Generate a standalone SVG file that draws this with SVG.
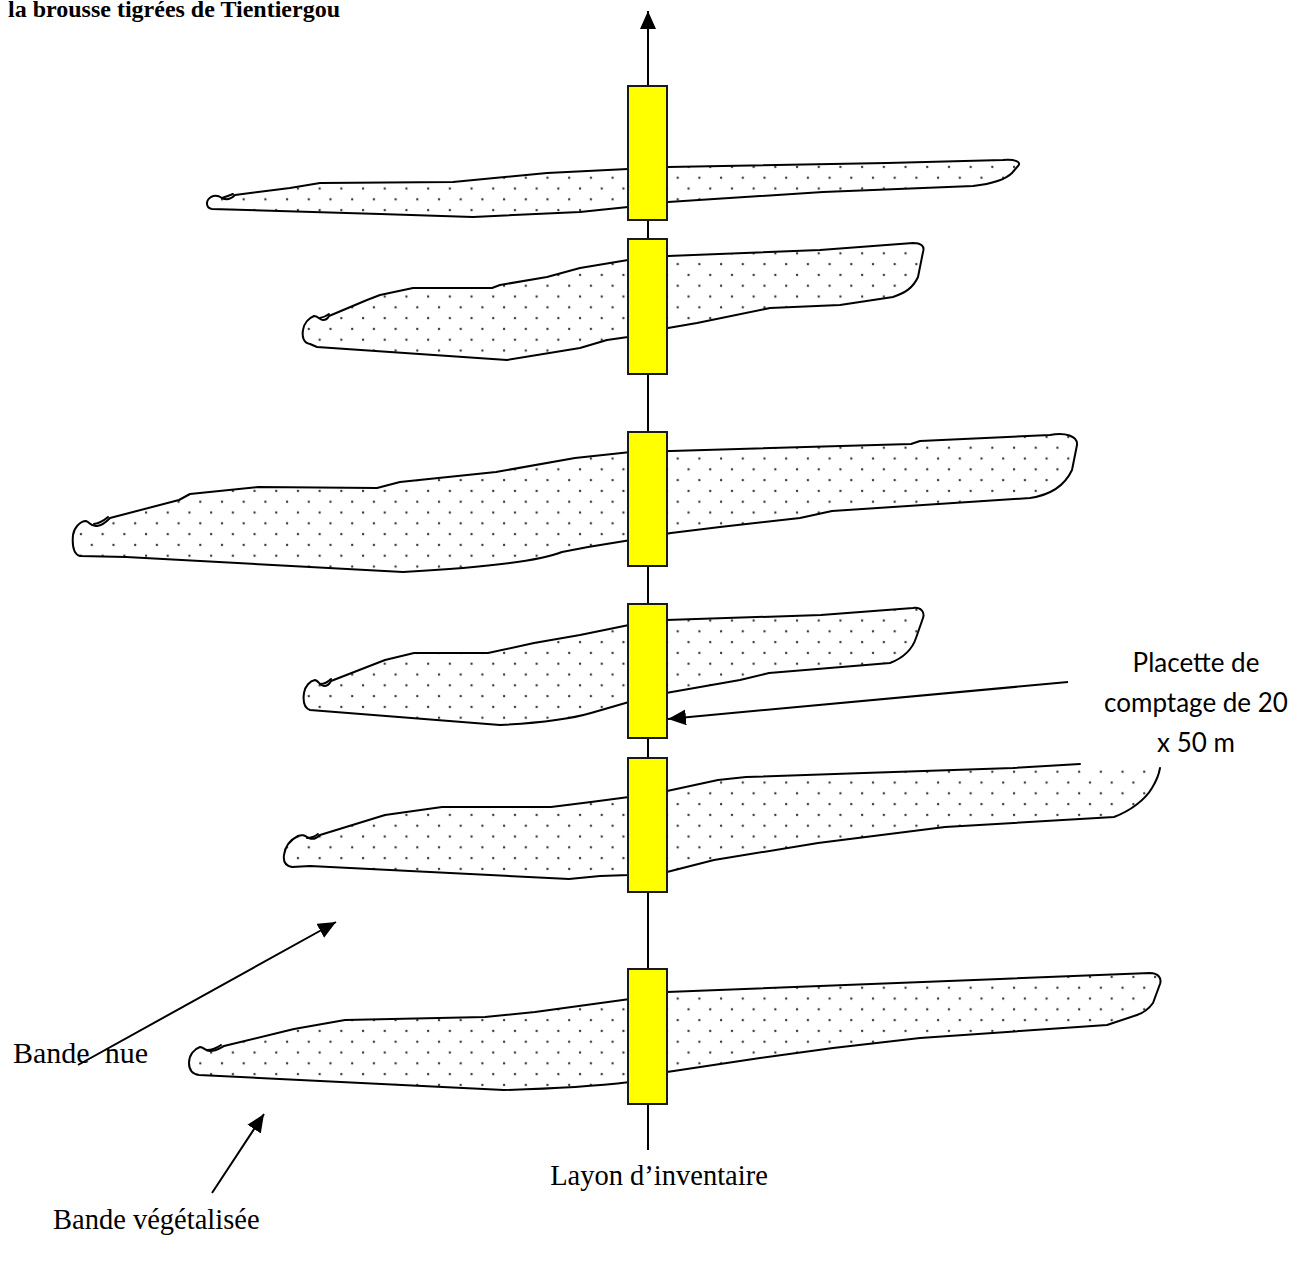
<svg xmlns="http://www.w3.org/2000/svg" width="1314" height="1265" viewBox="0 0 1314 1265">
<style>
.band{fill:url(#dots);stroke:#000;stroke-width:2;stroke-linejoin:round;stroke-linecap:round}
.bandfill{fill:url(#dots);stroke:none}
.bandline{fill:none;stroke:#000;stroke-width:2;stroke-linejoin:round;stroke-linecap:round}
.plot{fill:#ffff00;stroke:#1a1a1a;stroke-width:2}
.conn{fill:none;stroke:#000;stroke-width:2}
.serif{font-family:"Liberation Serif","Times New Roman",serif;fill:#000}
.sans{font-family:Lato,"Liberation Sans",sans-serif;fill:#000;font-size:26px;text-anchor:middle}
</style>
<defs>
<pattern id="dots" patternUnits="userSpaceOnUse" width="21.7" height="21.6">
<circle cx="5" cy="5" r="1.2" fill="#3a3a3a"/>
<circle cx="15.85" cy="15.8" r="1.2" fill="#3a3a3a"/>
</pattern>
<marker id="arr" markerUnits="userSpaceOnUse" markerWidth="20" markerHeight="16" refX="18" refY="8" orient="auto">
<path d="M0,0 L18,8 L0,16 Z" fill="#000"/>
</marker>
</defs>
<rect width="1314" height="1265" fill="#fff"/>

<text class="serif" x="8" y="17" font-size="24" font-weight="bold">la brousse tigrées de Tientiergou</text>

<g id="connectors">
<path id="layon" class="conn" d="M648,1150 L648,11" marker-end="url(#arr)"/>
</g>

<g id="band1">
<path class="band" d="M212,209 C206,208 205,201 211,197 C215,195 219,196 222,198 C226,200 231,199 235,195 L290,188 L320,183 L453,182 L547,173 L628,169 L668,167 L887,163 L1003,160 C1015,159 1022,162 1018,166 L1012,173 C1005,180 990,184 973,186 L823,192 L668,202 L628,207 L580,212 L473,217 L380,214 Z"/>
<path class="bandline" d="M222,198 Q228,196 233,194"/>
</g>
<g id="band2">
<path class="band" d="M310,344 C303,343 302,336 303,330 C304,323 309,318 314,316 C318,316 320,320 323,320 C326,320 328,318 329,316 L367,300 L380,295 L413,288 L492,288 L500,285 L547,277 L580,268 L628,260 L668,256 L820,250 L913,243 C921,243 925,246 923,252 L918,277 C913,288 905,293 893,297 L840,305 L770,308 L697,323 L668,328 L628,337 L607,340 L580,348 L507,360 L317,347 Z"/>
<path class="bandline" d="M320,318 Q325,317 329,314"/>
</g>
<g id="band3">
<path class="band" d="M80,556 C73,554 72,546 73,535 C74,528 80,521 86,521 C90,522 91,527 97,526 C104,525 108,520 110,518 L179,500 L190,494 L258,487 L377,488 L400,482 L496,472 L575,458 L631,452 L671,451 L911,444 L920,441 L1050,435 C1065,432 1078,436 1077,445 L1072,470 C1065,485 1050,495 1030,498 L832,511 L800,518 L720,527 L671,533 L631,540 L588,547 L562,552 Q530,565 403,572 L126,557 Z"/>
<path class="bandline" d="M94,524 Q101,523 108,517"/>
</g>
<g id="band4">
<path class="band" d="M310,710 C304,708 303,700 304,693 C305,686 310,681 315,680 C319,681 320,686 324,686 C328,686 330,683 331,681 L385,660 L414,653 L488,653 L534,643 L580,635 L629,625 L666,620 L821,615 L913,608 C921,607 925,612 923,618 L916,638 C912,650 903,658 890,663 L769,673 L740,680 L666,693 L629,702 L591,713 Q560,722 500,725 Z"/>
<path class="bandline" d="M320,684 Q326,684 331,679"/>
</g>
<g id="band5">
<path class="bandfill" d="M1080,764 L1013,768 L864,773 L746,777 L718,780 L667,791 L629,797 L591,802 L551,807 L442,807 L385,815 L320,835 C317,838 313,840 309,838 C305,836 303,834 298,836 C290,840 285,847 284,855 C283,862 286,866 292,867 L310,866 L569,879 L600,876 L629,875 L667,872 L714,860 L818,843 L945,827 L1114,817 C1130,811 1145,800 1152,788 C1157,780 1159,774 1160,768 Z"/>
<path class="bandline" d="M1080,764 L1013,768 L864,773 L746,777 L718,780 L667,791 L629,797 L591,802 L551,807 L442,807 L385,815 L320,835 C317,838 313,840 309,838 C305,836 303,834 298,836 C290,840 285,847 284,855 C283,862 286,866 292,867 L310,866 L569,879 L600,876 L629,875 L667,872 L714,860 L818,843 L945,827 L1114,817 C1130,811 1145,800 1152,788 C1157,780 1159,774 1160,768"/>
<path class="bandline" d="M307,838 Q313,838 318,834"/>
</g>
<g id="band6">
<path class="band" d="M199,1075 C192,1074 189,1070 189,1063 C189,1055 194,1049 200,1047 C204,1047 205,1051 210,1051 C216,1051 220,1048 224,1046 L294,1029 L345,1020 L485,1017 L535,1012 L630,999 L667,992 L1000,979 L1150,973 C1158,973 1162,978 1160,984 L1153,1003 C1148,1010 1143,1013 1137,1015 L1107,1025 L920,1038 L833,1048 L760,1058 L667,1072 L630,1082 Q580,1088 504,1090 Z"/>
<path class="bandline" d="M207,1050 Q214,1050 221,1045"/>
</g>

<g id="plot1"><rect class="plot" x="628" y="86" width="39" height="134"/></g>
<g id="plot2"><rect class="plot" x="628" y="239" width="39" height="135"/></g>
<g id="plot3"><rect class="plot" x="628" y="432" width="39" height="134"/></g>
<g id="plot4"><rect class="plot" x="628" y="604" width="39" height="134"/></g>
<g id="plot5"><rect class="plot" x="628" y="758" width="39" height="134"/></g>
<g id="plot6"><rect class="plot" x="628" y="969" width="39" height="135"/></g>

<g id="label-arrows">
<path class="conn" d="M1068,682 L668,719" marker-end="url(#arr)"/>
<path class="conn" d="M78,1065 L336,922" marker-end="url(#arr)"/>
<path class="conn" d="M212,1193 L264,1114" marker-end="url(#arr)"/>
</g>

<g id="label-placette">
<text class="sans" x="1196" y="672">Placette de</text>
<text class="sans" x="1196" y="712">comptage de 20</text>
<text class="sans" x="1196" y="752">x 50 m</text>
</g>
<g id="label-nue"><text class="serif" x="13" y="1063" font-size="30" xml:space="preserve">Bande  nue</text></g>
<g id="label-veg"><text class="serif" x="53" y="1229" font-size="28.5">Bande végétalisée</text></g>
<g id="label-layon"><text class="serif" x="659" y="1185" font-size="28.5" text-anchor="middle">Layon d’inventaire</text></g>
</svg>
